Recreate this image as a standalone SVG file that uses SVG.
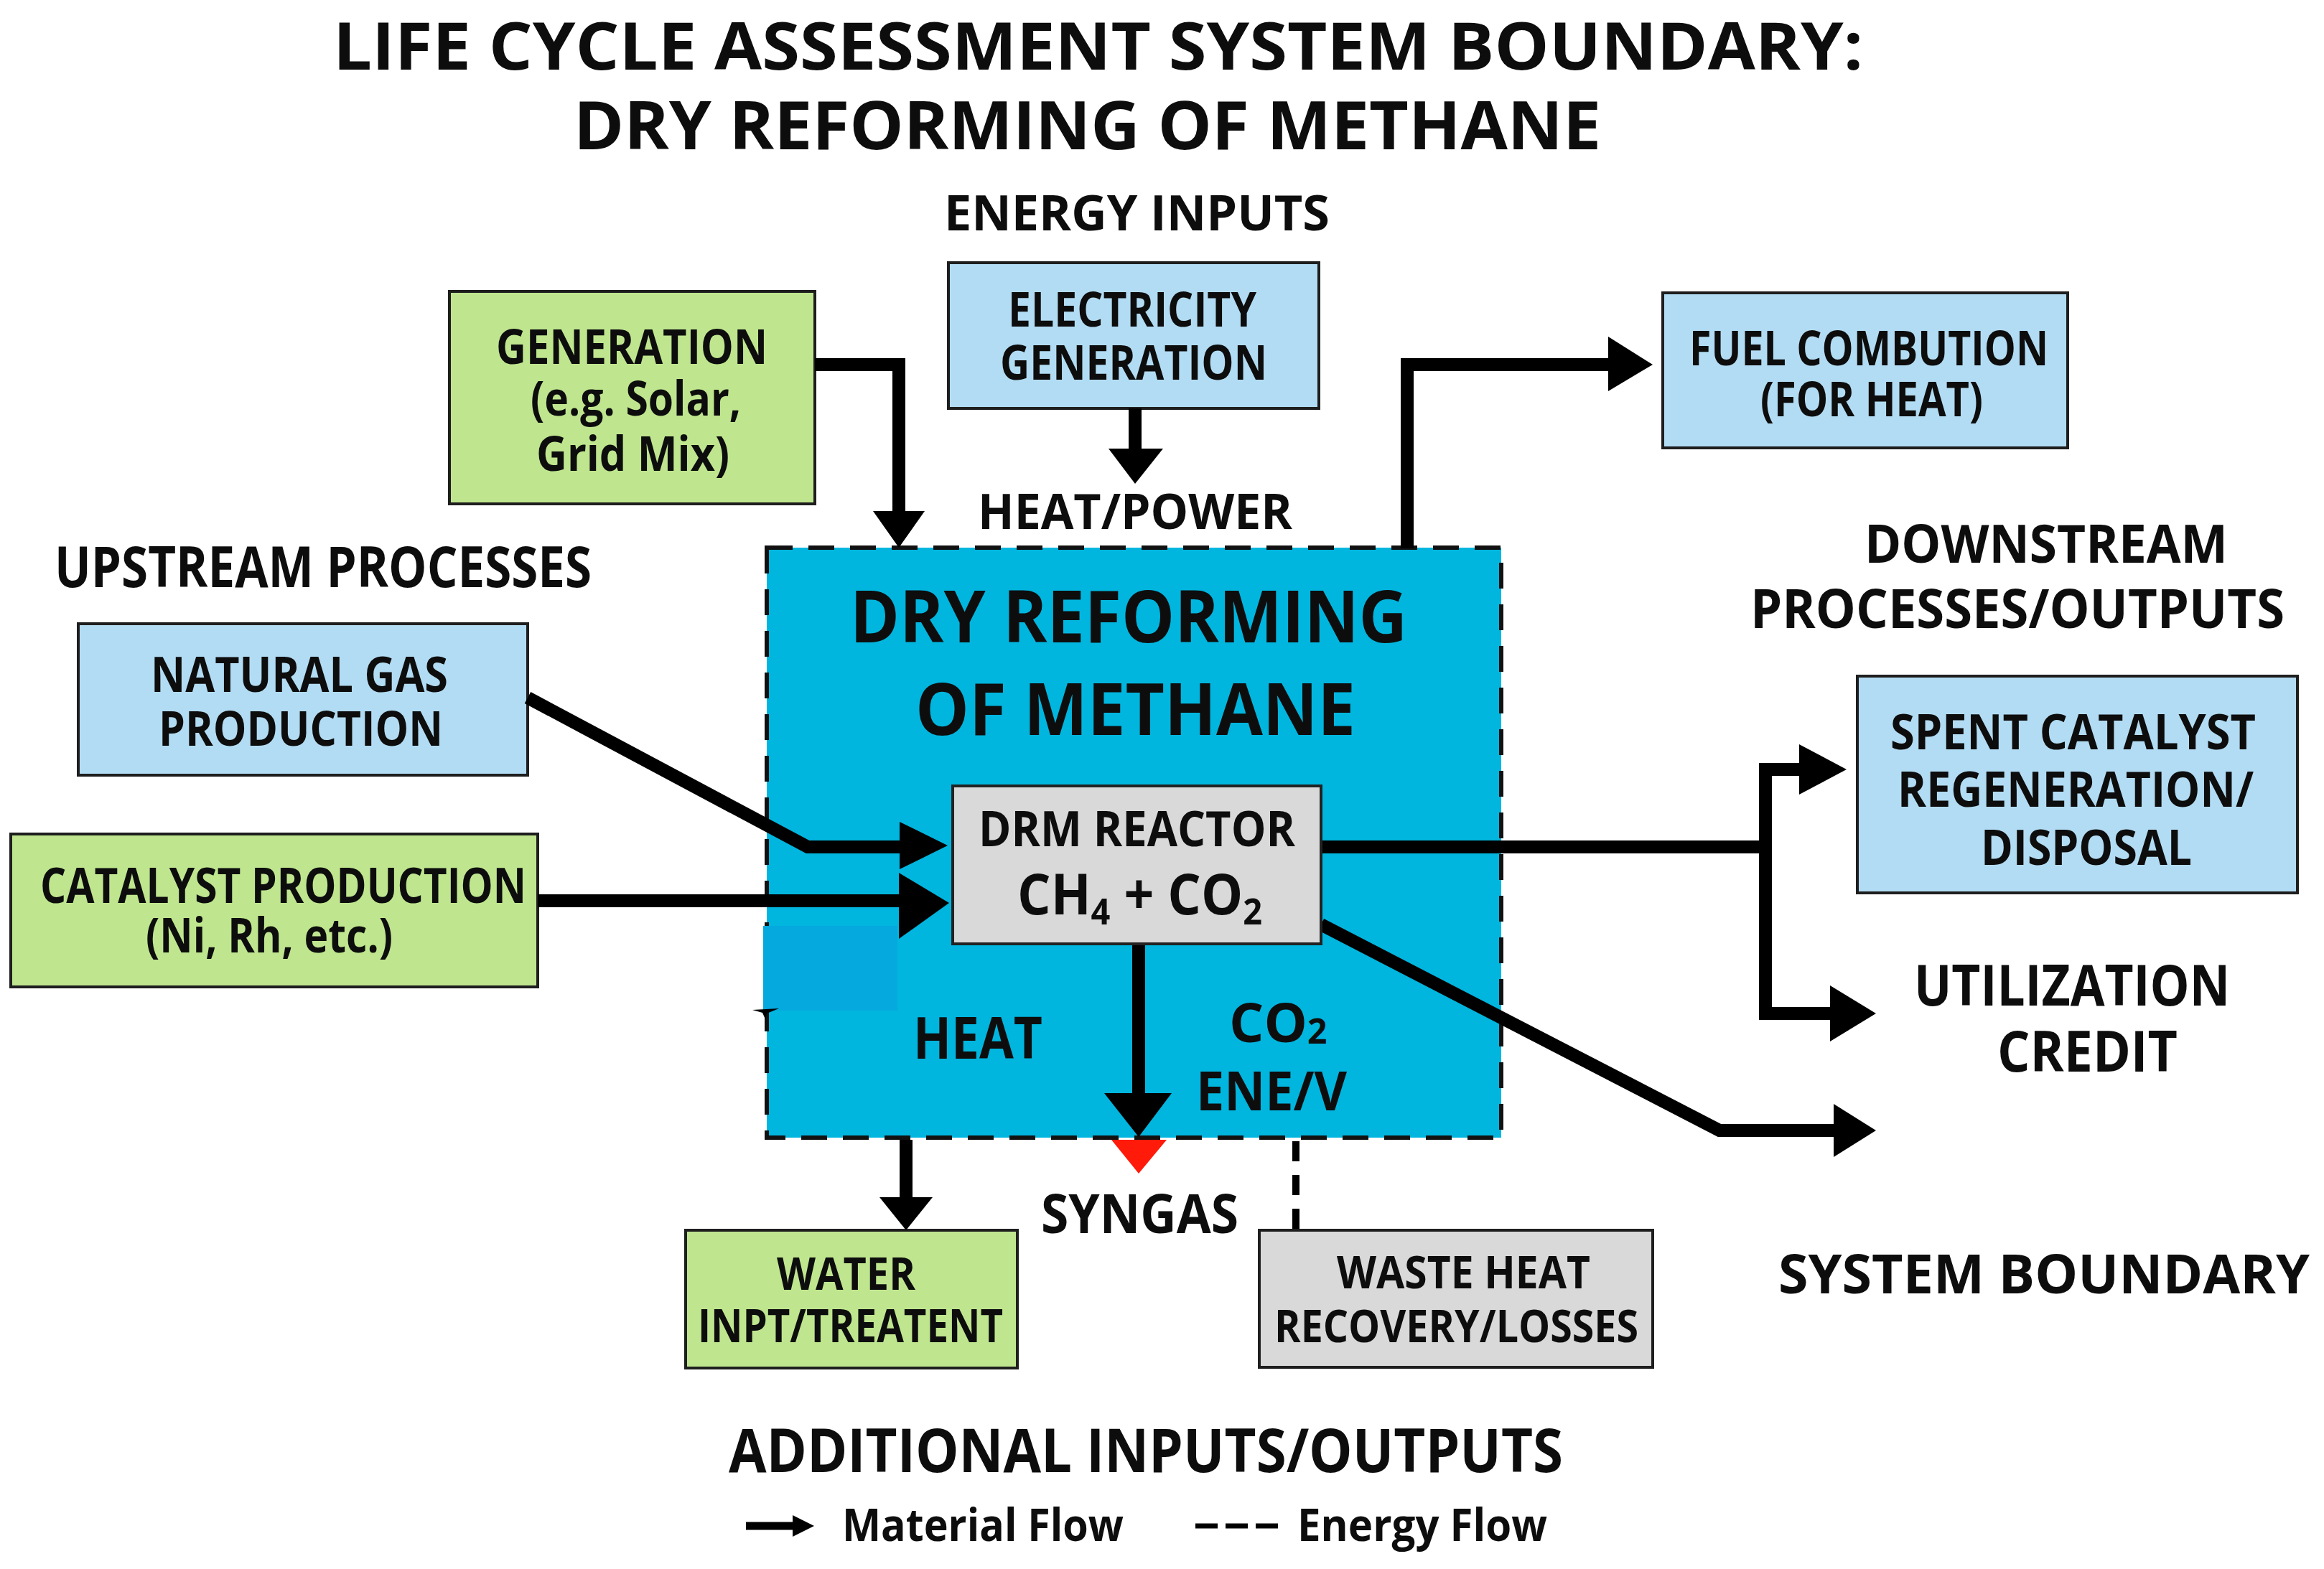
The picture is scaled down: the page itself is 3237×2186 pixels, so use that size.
<svg xmlns="http://www.w3.org/2000/svg" width="3237" height="2186" viewBox="0 0 3237 2186">
<style>
.t{font-family:"Open Sans","Liberation Sans",sans-serif;font-weight:700;fill:#0d0d0d}
.box{stroke:#1e1e1e;stroke-width:4}
.blue{fill:#b2dcf3}
.green{fill:#bfe68f}
.gray{fill:#d9d9d9}
.ln{fill:none;stroke:#000;stroke-width:18;stroke-linejoin:miter}
.ah{fill:#000}
</style>
<rect width="3237" height="2186" fill="#ffffff"/>

<g id="title">
<text class="t" x="464" y="97" font-size="92" textLength="2131" lengthAdjust="spacingAndGlyphs">LIFE CYCLE ASSESSMENT SYSTEM BOUNDARY:</text>
<text class="t" x="799" y="208" font-size="94" textLength="1431" lengthAdjust="spacingAndGlyphs">DRY REFORMING OF METHANE</text>
</g>

<g id="labels">
<text class="t" x="1315" y="321" font-size="68" textLength="537" lengthAdjust="spacingAndGlyphs">ENERGY INPUTS</text>
<text class="t" x="1362" y="737" font-size="68" textLength="438" lengthAdjust="spacingAndGlyphs">HEAT/POWER</text>
<text class="t" x="76" y="818" font-size="78" textLength="748" lengthAdjust="spacingAndGlyphs">UPSTREAM PROCESSES</text>
<text class="t" x="2597" y="784" font-size="73" textLength="506" lengthAdjust="spacingAndGlyphs">DOWNSTREAM</text>
<text class="t" x="2438" y="875" font-size="76" textLength="744" lengthAdjust="spacingAndGlyphs">PROCESSES/OUTPUTS</text>
<text class="t" x="2666" y="1401" font-size="78" textLength="440" lengthAdjust="spacingAndGlyphs">UTILIZATION</text>
<text class="t" x="2782" y="1493" font-size="78" textLength="251" lengthAdjust="spacingAndGlyphs">CREDIT</text>
<text class="t" x="2477" y="1802" font-size="76" textLength="740" lengthAdjust="spacingAndGlyphs">SYSTEM BOUNDARY</text>
<text class="t" x="1450" y="1718" font-size="76" textLength="275" lengthAdjust="spacingAndGlyphs">SYNGAS</text>
<text class="t" x="1015" y="2051" font-size="85" textLength="1162" lengthAdjust="spacingAndGlyphs">ADDITIONAL INPUTS/OUTPUTS</text>
</g>

<g id="drm-boundary">
<rect x="1068" y="763" width="1023" height="822" fill="#00b6df" stroke="#111" stroke-width="6" stroke-dasharray="36 22"/>
<text class="t" x="1184" y="895" font-size="100" textLength="776" lengthAdjust="spacingAndGlyphs">DRY REFORMING</text>
<text class="t" x="1275" y="1024" font-size="100" textLength="613" lengthAdjust="spacingAndGlyphs">OF METHANE</text>
<text class="t" x="1272" y="1475" font-size="80" textLength="180" lengthAdjust="spacingAndGlyphs">HEAT</text>
<text class="t" x="1712" y="1452" font-size="76">CO<tspan font-size="48" dy="2">2</tspan></text>
<text class="t" x="1666" y="1547" font-size="76" textLength="210" lengthAdjust="spacingAndGlyphs">ENE/V</text>
</g>

<g id="generation">
<rect class="box green" x="626" y="406" width="509" height="296"/>
<text class="t" x="691" y="507" font-size="66" textLength="378" lengthAdjust="spacingAndGlyphs">GENERATION</text>
<text class="t" x="739" y="579" font-size="66" textLength="293" lengthAdjust="spacingAndGlyphs">(e.g. Solar,</text>
<text class="t" x="747" y="656" font-size="66" textLength="269" lengthAdjust="spacingAndGlyphs">Grid Mix)</text>
</g>

<g id="electricity">
<rect class="box blue" x="1321" y="366" width="516" height="203"/>
<text class="t" x="1404" y="455" font-size="66" textLength="346" lengthAdjust="spacingAndGlyphs">ELECTRICITY</text>
<text class="t" x="1393" y="529" font-size="66" textLength="372" lengthAdjust="spacingAndGlyphs">GENERATION</text>
</g>

<g id="fuel-combustion">
<rect class="box blue" x="2316" y="408" width="564" height="216"/>
<text class="t" x="2353" y="509" font-size="66" textLength="500" lengthAdjust="spacingAndGlyphs">FUEL COMBUTION</text>
<text class="t" x="2452" y="580" font-size="66" textLength="310" lengthAdjust="spacingAndGlyphs">(FOR HEAT)</text>
</g>

<g id="natural-gas">
<rect class="box blue" x="109" y="869" width="626" height="211"/>
<text class="t" x="210" y="964" font-size="68" textLength="414" lengthAdjust="spacingAndGlyphs">NATURAL GAS</text>
<text class="t" x="221" y="1039" font-size="66" textLength="396" lengthAdjust="spacingAndGlyphs">PRODUCTION</text>
</g>

<g id="catalyst">
<rect class="box green" x="15" y="1162" width="734" height="213"/>
<text class="t" x="56" y="1258" font-size="68" textLength="677" lengthAdjust="spacingAndGlyphs">CATALYST PRODUCTION</text>
<text class="t" x="203" y="1327" font-size="66" textLength="344" lengthAdjust="spacingAndGlyphs">(Ni, Rh, etc.)</text>
</g>

<g id="spent-catalyst">
<rect class="box blue" x="2587" y="942" width="613" height="302"/>
<text class="t" x="2633" y="1044" font-size="68" textLength="509" lengthAdjust="spacingAndGlyphs">SPENT CATALYST</text>
<text class="t" x="2643" y="1124" font-size="68" textLength="496" lengthAdjust="spacingAndGlyphs">REGENERATION/</text>
<text class="t" x="2759" y="1205" font-size="68" textLength="294" lengthAdjust="spacingAndGlyphs">DISPOSAL</text>
</g>

<g id="water">
<rect class="box green" x="955" y="1714" width="462" height="192"/>
<text class="t" x="1082" y="1797" font-size="63" textLength="193" lengthAdjust="spacingAndGlyphs">WATER</text>
<text class="t" x="972" y="1870" font-size="64" textLength="425" lengthAdjust="spacingAndGlyphs">INPT/TREATENT</text>
</g>

<g id="waste-heat">
<rect class="box gray" x="1754" y="1714" width="548" height="191"/>
<text class="t" x="1862" y="1795" font-size="62" textLength="353" lengthAdjust="spacingAndGlyphs">WASTE HEAT</text>
<text class="t" x="1775" y="1870" font-size="62" textLength="507" lengthAdjust="spacingAndGlyphs">RECOVERY/LOSSES</text>
</g>

<g id="connectors">
<path class="ln" d="M1135,508 H1252 V720"/>
<polygon class="ah" points="1216,712 1288,712 1252,763"/>
<path class="ln" d="M1581,569 V630" stroke-width="14"/>
<polygon class="ah" points="1544,625 1620,625 1581,674"/>
<path class="ln" d="M1960,764 V508 H2245"/>
<polygon class="ah" points="2240,469 2302,508 2240,545"/>
<path class="ln" d="M735,972 L1125,1180 H1258"/>
<polygon class="ah" points="1253,1145 1320,1178 1253,1211"/>
<path class="ln" d="M749,1255 H1258"/>
<polygon class="ah" points="1252,1216 1322,1258 1252,1308"/>
<path class="ln" d="M1840,1180 H2459"/>
<path class="ln" d="M2510,1072 H2459 V1412 H2555"/>
<polygon class="ah" points="2506,1037 2572,1072 2506,1107"/>
<polygon class="ah" points="2549,1373 2613,1412 2549,1451"/>
<path class="ln" d="M1840,1288 L2395,1575 H2560"/>
<polygon class="ah" points="2554,1538 2613,1575 2554,1612"/>
<path class="ln" d="M1586,1315 V1530" stroke-width="14"/>
<polygon class="ah" points="1538,1523 1632,1523 1586,1584"/>
<polygon fill="#ff1a0a" points="1548,1588 1625,1588 1586,1635"/>
<path class="ln" d="M1262,1588 V1672" stroke-width="14"/>
<polygon class="ah" points="1225,1668 1299,1668 1262,1714"/>
<path d="M1805,1590 V1714" stroke="#000" stroke-width="10" fill="none" stroke-dasharray="28 19"/>
</g>

<g id="reactor">
<rect x="1327" y="1095" width="513" height="220" fill="#d9d9d9" stroke="#222" stroke-width="4"/>
<text class="t" x="1363" y="1179" font-size="68" textLength="441" lengthAdjust="spacingAndGlyphs">DRM REACTOR</text>
<text class="t" x="1417" y="1274" font-size="78" textLength="341" lengthAdjust="spacingAndGlyphs">CH<tspan font-size="50" dy="14">4</tspan><tspan dy="-14"> + CO</tspan><tspan font-size="50" dy="14">2</tspan></text>
</g>

<g id="artifact">
<rect x="1063" y="1290" width="187" height="118" fill="#05a9de"/>
<path d="M1048,1407 L1085,1405 L1068,1412 L1066,1420 L1062,1411 Z" fill="#000"/>
</g>

<g id="legend">
<path d="M1039,2126 H1112" stroke="#000" stroke-width="11" fill="none"/>
<polygon class="ah" points="1104,2111 1134,2126 1104,2141"/>
<text class="t" x="1173" y="2147" font-size="62" font-weight="600" textLength="392" lengthAdjust="spacingAndGlyphs">Material Flow</text>
<path d="M1665,2126 H1780" stroke="#000" stroke-width="7" fill="none" stroke-dasharray="31 11"/>
<text class="t" x="1807" y="2147" font-size="62" font-weight="600" textLength="348" lengthAdjust="spacingAndGlyphs">Energy Flow</text>
</g>
</svg>
